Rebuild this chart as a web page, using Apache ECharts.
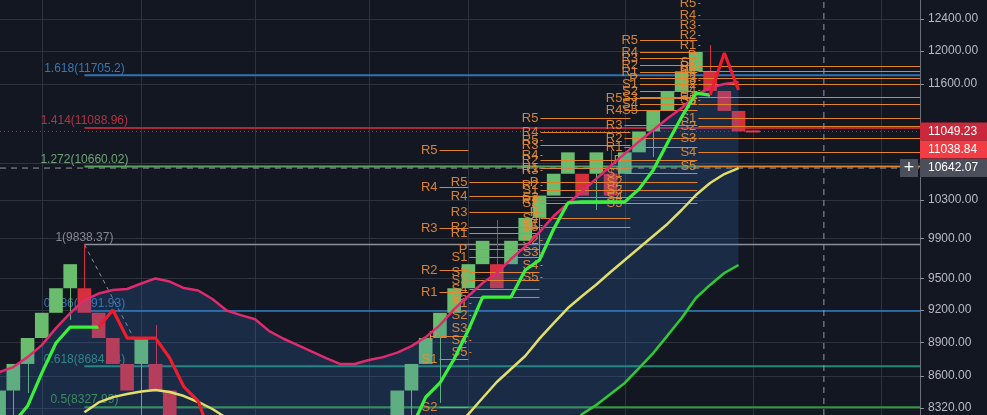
<!DOCTYPE html>
<html><head><meta charset="utf-8">
<script src="https://cdn.jsdelivr.net/npm/echarts@6/dist/echarts.min.js"></script>
<style>html,body{margin:0;padding:0;background:#131722;overflow:hidden}#c{width:987px;height:415px}</style>
</head><body><div id="c"></div>
<script>
// ---------------- DATA ----------------
// renko bricks: column index, open, close
const brickIndex = [0,1,2,3,4,5,6,7,8,9,10,11,12,28,29,30,31,32,33,34,35,36,37,38,39,40,41,42,43,44,45,46,47,48,49,50,51,52];
const brickOpen  = [8237,8471,8705,8940,9174,9408,9408,9174,8940,8705,8705,8705,8471,8237,8471,8705,8940,9174,9408,9643,9643,9643,9877,10112,10346,10580,10580,10580,10580,10580,10815,11049,11284,11518,11752,11752,11518,11284];
const brickClose = [8471,8705,8940,9174,9408,9643,9174,8940,8705,8471,8940,8471,8237,8471,8705,8940,9174,9408,9643,9877,9408,9877,10112,10346,10580,10815,10346,10815,10346,10815,11049,11284,11518,11752,11987,11518,11284,11049.23];
// wicks: column index and extreme price
const wickIndex = [1,2,5,6,10,11,29,31,35,38,42,43,46,50];
const wickPrice = [8200,8449,9107,9838.37,8200,9060,8200,8364,10090,9685,10194,10842,10763,12074];

// moving averages, one value per column (null = not drawn / off chart)
const pinkMA = [8632,8677,8766,8875,9031,9171,9295,9357,9391,9401,9454,9503,9473,9410,9386,9305,9195,9152,9114,9003,8933,8875,8816,8757,8704,8704,8740,8766,8807,8866,8948,9059,9209,9333,9459,9556,9694,9819,9966,10131,10262,10389,10528,10664,10801,10937,11066,11197,11317,11469,11558,11600,11624];
const fastUp = [null,8193,8337,8624,8894,9041,9041,9041,null,null,null,null,null,null,null,null,null,null,null,null,null,null,null,null,null,null,null,null,null,8151,8414,8537,8749,9013,9323,9323,9323,9585,9684,9997,10268,10279,10279,10279,10279,10415,10620,10920,11214,11493,11469,null,null];
const fastDown = [null,null,null,null,null,null,null,9041,9200,8939,8939,8939,8757,8502,8380,8052,null,null,null,null,null,null,null,null,null,null,null,null,null,null,null,null,null,null,null,null,null,null,null,null,null,null,null,null,null,null,null,null,null,null,11469,11975,11529];
const yellowMA = [null,null,null,null,null,null,8285,8368,8414,8441,8462,8475,8458,8423,8372,8312,8235,8151,null,null,null,null,null,null,null,null,null,null,null,null,null,null,8144,8269,8406,8545,8660,8776,8934,9078,9219,9333,9444,9566,9684,9804,9926,10049,10194,10352,10480,10577,10642.07];
const slowMA = [null,null,null,null,null,null,null,null,null,null,null,null,null,null,null,null,null,null,null,null,null,null,null,null,null,null,null,null,null,null,null,null,null,null,null,null,null,null,null,null,8151,8269,8346,8441,8537,8668,8803,8962,9125,9314,9440,9556,9635];

// fibonacci retracement
const fibRatio = ['1.618','1.414','1.272','1','0.786','0.618','0.5'];
const fibPrice = [11705.2,11088.96,10660.02,9838.37,9191.93,8684.44,8327.99];
const fibAnchorK = 6;
const fibTrend = [[6,9838.37],[19.3,6817.6]];

// pivot points: period start/end column, levels R5..S5
const pivotNames = ['R5','R4','R3','R2','R1','P','S1','S2','S3','S4','S5'];
const pivotStart = [30.9,33.0,33.0,38.0,38.0,43.9,45.0,49.1,49.1];
const pivotEnd   = [33.0,38.0,33.0,44.4,38.0,49.1,49.1,49.1,64.76];
const pivotA  = [10841,10437,10008,9586,9372,8958,8749,8330,null,null,null];
const pivotB  = [10491,10341,10173,10018,9956,9794,9714,9566,9488,9401,9324];
const pivotB0 = [null,null,null,null,null,null,9267,9153,9031,8921,8812];
const pivotC  = [11203,11044,10897,10730,10643,10491,10405,10331,10268,10111,10018];
const pivotC0 = [10953,10786,10621,10459,10299,10173,10038,9885,9764,9635,9517];
const pivotD  = [11434,11295,11123,10975,10874,10730,10588,10491,10405,10331,10268];
const pivotE  = [12136,11987,11913,11828,11744,11672,11600,11517,11445,11364,11295];
const pivotF0 = [12605,12451,12324,12198,12074,11950,11864,11768,11648,11529,11411];
const pivotF  = [11816,11755,11672,11600,11445,11364,11203,11111,10975,10818,10664];
const pivotLevels = [pivotA,pivotB,pivotB0,pivotC,pivotC0,pivotD,pivotE,pivotF0,pivotF];

// axes / markers
const priceGrid = [8320,8600,8900,9200,9500,9900,10300,10700,11600,12000,12400];
const priceTickLabels = [8320,8600,8900,9200,9500,9900,10300,11600,12000,12400];
const timeGridK = [3,10,18,26,33,44,53,62];
const crossK = 58, crossPrice = 10642.07;
const lastPrice = 11049.23, secondPrice = 11038.84;

// ---------------- STYLE ----------------
const X_MIN = 0.063, X_MAX = 64.76, Y_MIN = 8261, Y_MAX = 12644;
const FONT = '"Liberation Sans", Arial, sans-serif';
const UP = '#69bd6d', DOWN = '#d6303d';
const fibLineColor = ['#2f72b5','#a8283c','#5aa05e','#8d9098','#2c80c2','#1f8a72','#2e9a3c'];
const fibTextColor = ['#3f8ed6','#d63a4f','#84c487','#a0a3aa','#3f8ed6','#35a68f','#47b04d'];
const fibWidth = [2,2,2,1.5,1.5,2,2];
const PIV_LINE = '#e0842c', PIV_TEXT = 'rgba(232,140,52,0.92)';

// ---------------- BUILD ----------------
const toPairs = arr => arr.map((v,i)=>[i, v]);
const bricks = brickIndex.map((k,i)=>[k, brickOpen[i], brickClose[i]]);
const wicks = wickIndex.map((k,i)=>{
  const b = brickIndex.indexOf(k);
  return [k, wickPrice[i], (brickOpen[b]+brickClose[b])/2, brickClose[b] > brickOpen[b] ? 1 : 0];
});
const pivotItems = [];
pivotLevels.forEach((lv,p)=>lv.forEach((v,i)=>{ if (v!=null) pivotItems.push([pivotStart[p], pivotEnd[p], v, i]); }));

const chart = echarts.init(document.getElementById('c'), null, {renderer:'canvas'});
const series = [];

fibPrice.forEach((v,i)=>series.push({
  type:'line', data:[[fibAnchorK, v],[X_MAX, v]], symbol:'none', silent:true, z:1,
  lineStyle:{color:fibLineColor[i], width:fibWidth[i]}
}));
series.push({
  type:'scatter', symbolSize:0, z:1, silent:true,
  data: fibPrice.map((v,i)=>({value:[fibAnchorK, v], label:{color:fibTextColor[i], formatter: fibRatio[i]+'('+v+')'}})),
  label:{show:true, position:'top', distance:1, fontSize:12, fontFamily:FONT}
});
series.push({type:'line', data:fibTrend, symbol:'none', silent:true, z:1,
  lineStyle:{color:'#8a8d96', width:1, type:[4,4]}});

series.push({
  type:'custom', z:2, silent:true, clip:true, data:wicks,
  renderItem:(params, api)=>{
    const a = api.coord([api.value(0), api.value(1)]);
    const b = api.coord([api.value(0), api.value(2)]);
    return {type:'line', shape:{x1:Math.round(a[0])+0.5, y1:a[1], x2:Math.round(a[0])+0.5, y2:b[1]},
      style:{stroke: api.value(3) ? UP : DOWN, lineWidth:1}};
  }
});
series.push({
  type:'custom', z:2, silent:true, clip:true, data:bricks,
  renderItem:(params, api)=>{
    const k = api.value(0), o = api.value(1), c = api.value(2);
    const p1 = api.coord([k-0.48, Math.max(o,c)]);
    const p2 = api.coord([k+0.48, Math.min(o,c)]);
    return {type:'rect', shape:{x:p1[0], y:p1[1], width:p2[0]-p1[0], height:p2[1]-p1[1]},
      style:{fill: c>o ? UP : DOWN}};
  }
});
series.push({
  type:'custom', z:3, silent:true, clip:true, data:[[0, pinkMA[0]]],
  renderItem:(params, api)=>{
    const pts = [];
    for (let k=0;k<pinkMA.length;k++) pts.push(api.coord([k, pinkMA[k]]));
    for (let k=pinkMA.length-1;k>=0;k--) {
      const v = slowMA[k]==null ? Y_MIN : Math.max(slowMA[k], Y_MIN);
      pts.push(api.coord([k, v]));
    }
    return {type:'polygon', shape:{points:pts}, style:{fill:'rgba(56,120,210,0.21)'}};
  }
});
series.push({type:'line', data:[[X_MIN,lastPrice],[X_MAX,lastPrice]], symbol:'none', silent:true, z:4,
  lineStyle:{color:'#c62a36', width:1, type:[1,3]}});
series.push({type:'line', data:[[X_MIN,crossPrice],[X_MAX,crossPrice]], symbol:'none', silent:true, z:4,
  lineStyle:{color:'#9598a1', width:1, type:[6,5]}});
series.push({type:'line', data:[[crossK,Y_MIN],[crossK,Y_MAX]], symbol:'none', silent:true, z:4,
  lineStyle:{color:'#9598a1', width:1, type:[6,5]}});
series.push({
  type:'custom', z:4, silent:true, clip:true, data:pivotItems,
  renderItem:(params, api)=>{
    const s = api.coord([api.value(0), api.value(2)]);
    const e = api.coord([api.value(1), api.value(2)]);
    const y = Math.round(s[1])+0.5;
    return {type:'group', children:[
      {type:'line', shape:{x1:s[0]+1, y1:y, x2:Math.max(e[0], s[0]+3), y2:y}, style:{stroke:PIV_LINE, lineWidth:1}},
      {type:'text', x:s[0]-1, y:y, style:{text:pivotNames[api.value(3)], align:'right', verticalAlign:'middle',
        fill:PIV_TEXT, font:'13px '+FONT}}
    ]};
  }
});
series.push({type:'line', data:toPairs(pinkMA), symbol:'none', silent:true, z:5,
  lineStyle:{color:'#e02a6e', width:2.5}});
series.push({type:'line', data:toPairs(yellowMA), symbol:'none', silent:true, z:5,
  lineStyle:{color:'#e2de6c', width:2.5}});
series.push({type:'line', data:toPairs(slowMA), symbol:'none', silent:true, z:5,
  lineStyle:{color:'#2fcb30', width:2.5}});
series.push({type:'line', data:toPairs(fastUp), symbol:'none', silent:true, z:5,
  lineStyle:{color:'#3def3d', width:3.2}});
series.push({type:'line', data:toPairs(fastDown), symbol:'none', silent:true, z:5,
  lineStyle:{color:'#f01c2e', width:3.2}});
series.push({type:'line', data:[[52.5,lastPrice],[53.5,lastPrice]], symbol:'none', silent:true, z:5,
  lineStyle:{color:'#f23645', width:2}});

chart.setOption({
  animation:false,
  backgroundColor:'#131722',
  grid:{left:0, right:67, top:0, bottom:0},
  xAxis:{type:'value', min:X_MIN, max:X_MAX,
    axisLine:{show:false}, axisLabel:{show:false},
    axisTick:{show:false, customValues:timeGridK},
    splitLine:{show:true, lineStyle:{color:'#2e323d', width:1}}},
  yAxis:{type:'log', position:'right', min:Y_MIN, max:Y_MAX,
    axisLine:{show:true, lineStyle:{color:'#6b6e79'}},
    axisTick:{show:true, length:4, customValues:priceGrid, lineStyle:{color:'#8d9099'}},
    axisLabel:{customValues:priceTickLabels, formatter:v=>Number(v).toFixed(2), color:'#b7bac2',
      fontSize:12, fontFamily:FONT, margin:8},
    splitLine:{show:true, lineStyle:{color:'#2e323d', width:1}}},
  series
});

const py = v => chart.convertToPixel({yAxisIndex:0}, v);
const y1 = py(lastPrice), y3 = py(crossPrice);
const tag = (y, txt, fill) => [
  {type:'rect', shape:{x:920, y:y-9, width:67, height:18}, style:{fill}, z:100},
  {type:'text', x:928, y:y, style:{text:txt, fill:'#ffffff', font:'12px '+FONT, verticalAlign:'middle'}, z:101}
];
chart.setOption({graphic:[
  ...tag(y1, lastPrice.toFixed(2), '#c9293a'),
  ...tag(y1+18, secondPrice.toFixed(2), '#f23d45'),
  ...tag(y3, crossPrice.toFixed(2), '#4b4f5b'),
  {type:'rect', shape:{x:900, y:y3-9, width:18, height:18}, style:{fill:'#4b4f5b'}, z:100},
  {type:'text', x:909, y:y3, style:{text:'+', fill:'#ffffff', font:'18px '+FONT, align:'center', verticalAlign:'middle'}, z:101}
]});
</script>
</body></html>
